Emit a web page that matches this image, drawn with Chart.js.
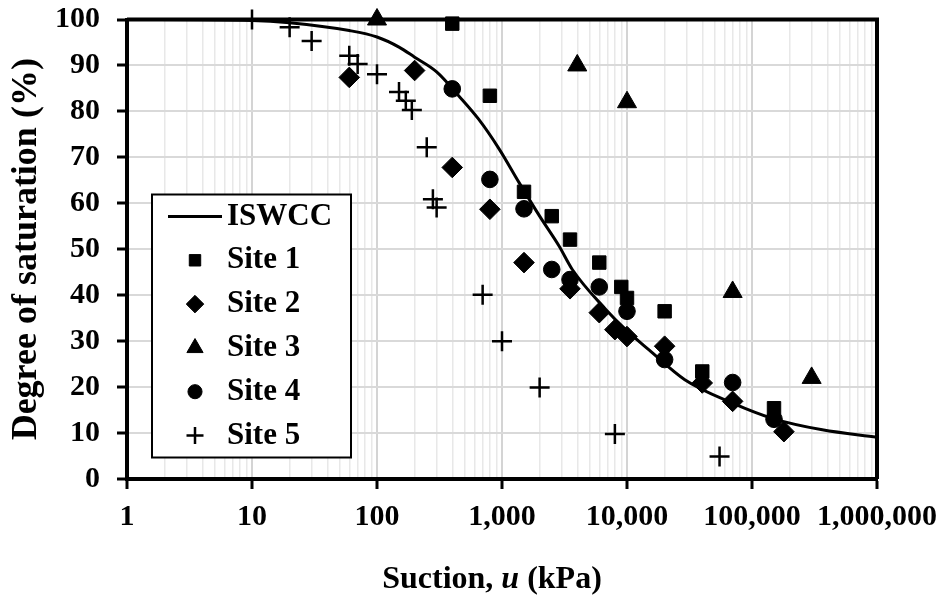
<!DOCTYPE html>
<html>
<head>
<meta charset="utf-8">
<script src="https://cdn.jsdelivr.net/npm/chart.js@4.4.1/dist/chart.umd.min.js"></script>
<style>
  body { margin: 0; background: #fff; }
  .chart-box { width: 949px; height: 604px; }
</style>
</head>
<body>
<div class="chart-box"><canvas id="swccChart"></canvas></div>
<script>
// ISWCC curve (suction in kPa, degree of saturation in %)
const iswccSuction = [1, 10, 20, 60, 100, 150, 200, 300, 450, 650, 950, 1370, 2000, 2860, 3650, 6770, 9770, 15000, 29000, 70000, 145000, 365000, 1000000];
const iswccSat = [100, 99.8, 99.3, 97.6, 96.2, 94.0, 91.8, 88.6, 83.4, 78.3, 71.8, 64.5, 57.2, 50.7, 45.6, 36.9, 32.5, 28.1, 21.6, 16.5, 13.2, 10.7, 9.1];

// measured points per site
const site1Suction = [400, 800, 1500, 2500, 3500, 6000, 9000, 10000, 20000, 40000, 150000];
const site1Sat = [99.1, 83.4, 62.5, 57.2, 52.1, 47.1, 41.8, 39.4, 36.5, 23.4, 15.4];

const site2Suction = [60, 200, 400, 800, 1500, 3500, 6000, 8000, 10000, 20000, 40000, 70000, 180000];
const site2Sat = [87.4, 88.9, 67.8, 58.7, 47.1, 41.4, 36.2, 32.5, 31.0, 28.9, 20.9, 16.9, 10.3];

const site3Suction = [100, 4000, 10000, 70000, 300000];
const site3Sat = [100, 90.0, 82.0, 40.7, 22.0];

const site4Suction = [400, 800, 1500, 2500, 3500, 6000, 10000, 20000, 70000, 150000];
const site4Sat = [84.9, 65.2, 58.8, 45.6, 43.4, 41.8, 36.5, 26.0, 21.0, 13.0];

const site5Suction = [10, 20, 30, 60, 70, 100, 150, 170, 190, 250, 280, 300, 700, 1000, 2000, 8000, 55000];
const site5Sat = [100, 98.3, 95.3, 92.1, 90.3, 88.1, 84.2, 82.3, 80.3, 72.2, 60.9, 59.1, 40.1, 30.0, 19.9, 9.8, 4.9];

const xDecades = [1, 10, 100, 1000, 10000, 100000, 1000000];

const FONT = '"Liberation Serif", "Times New Roman", serif';
Chart.defaults.font.family = FONT;
Chart.defaults.font.weight = 'bold';
Chart.defaults.color = '#000';

const toPoints = (xs, ys) => xs.map((x, i) => ({x: x, y: ys[i]}));

const siteSet = (label, xs, ys, style, radius, bw) => ({
  label: label,
  data: toPoints(xs, ys),
  pointStyle: style,
  pointRadius: radius,
  pointHoverRadius: radius,
  pointBackgroundColor: '#000',
  pointBorderColor: '#000',
  pointBorderWidth: bw,
  showLine: false,
  clip: false,
  order: 0
});

// frame on top and right side of the plot
const frame = {
  id: 'frame',
  beforeDatasetsDraw(chart) {
    const {ctx, chartArea: a} = chart;
    ctx.save();
    ctx.strokeStyle = '#000';
    ctx.lineWidth = 4;
    ctx.beginPath();
    ctx.moveTo(a.left, a.top);
    ctx.lineTo(a.right, a.top);
    ctx.lineTo(a.right, a.bottom);
    ctx.stroke();
    ctx.restore();
  }
};

// boxed legend inside the plot + x axis title with italic u
const legendBox = {
  id: 'legendBox',
  afterDraw(chart) {
    const {ctx, chartArea: a} = chart;
    const left = a.left + 25, top = a.top + 175, w = 199, h = 263;
    ctx.save();
    ctx.fillStyle = '#fff';
    ctx.fillRect(left, top, w, h);
    ctx.lineWidth = 2;
    ctx.strokeStyle = '#000';
    ctx.strokeRect(left, top, w, h);

    ctx.font = 'bold 31px ' + FONT;
    ctx.textBaseline = 'middle';
    ctx.textAlign = 'left';
    chart.data.datasets.forEach((ds, i) => {
      const y = top + 22 + i * 43.8;
      ctx.fillStyle = '#000';
      ctx.strokeStyle = '#000';
      if (ds.showLine) {
        ctx.lineWidth = 3;
        ctx.beginPath();
        ctx.moveTo(left + 16, y);
        ctx.lineTo(left + 70, y);
        ctx.stroke();
      } else {
        ctx.lineWidth = ds.pointBorderWidth;
        Chart.helpers.drawPoint(ctx, {
          pointStyle: ds.pointStyle,
          radius: ds.pointRadius * 0.85,
          borderWidth: ds.pointBorderWidth,
          rotation: 0
        }, left + 43, y);
      }
      ctx.fillText(ds.label, left + 75, y);
    });

    const parts = [['Suction, ', 'bold'], ['u', 'italic bold'], [' (kPa)', 'bold']];
    let total = 0;
    parts.forEach(p => { ctx.font = p[1] + ' 32px ' + FONT; total += ctx.measureText(p[0]).width; });
    let x = (a.left + a.right) / 2 - 10 - total / 2;
    ctx.textBaseline = 'alphabetic';
    ctx.fillStyle = '#000';
    parts.forEach(p => {
      ctx.font = p[1] + ' 32px ' + FONT;
      ctx.fillText(p[0], x, 588);
      x += ctx.measureText(p[0]).width;
    });
    ctx.restore();
  }
};

const swccChart = new Chart(document.getElementById('swccChart'), {
  type: 'scatter',
  data: {
    datasets: [
      {
        label: 'ISWCC',
        data: toPoints(iswccSuction, iswccSat),
        showLine: true,
        borderColor: '#000',
        borderWidth: 3,
        pointRadius: 0,
        pointHoverRadius: 0,
        cubicInterpolationMode: 'monotone',
        order: 1
      },
      siteSet('Site 1', site1Suction, site1Sat, 'rect', 9.5, 1),
      siteSet('Site 2', site2Suction, site2Sat, 'rectRot', 10.3, 1),
      siteSet('Site 3', site3Suction, site3Sat, 'triangle', 11, 1),
      siteSet('Site 4', site4Suction, site4Sat, 'circle', 8.3, 1),
      siteSet('Site 5', site5Suction, site5Sat, 'cross', 10, 2.5)
    ]
  },
  options: {
    responsive: true,
    maintainAspectRatio: false,
    animation: false,
    layout: { padding: { top: 19.5, right: 72, bottom: 0, left: 0 } },
    plugins: {
      legend: { display: false },
      tooltip: { enabled: false }
    },
    scales: {
      x: {
        type: 'logarithmic',
        min: 1,
        max: 1000000,
        afterBuildTicks: (scale) => {
          const ticks = [];
          for (let e = 0; e < 6; e++) {
            for (let m = 1; m < 10; m++) ticks.push({value: m * Math.pow(10, e)});
          }
          ticks.push({value: 1000000});
          scale.ticks = ticks;
        },
        afterFit: (scale) => { scale.height = 125; },
        border: { display: true, color: '#000', width: 4 },
        grid: {
          color: (c) => xDecades.includes(c.tick.value) ? '#d4d4d4' : '#e8e8e8',
          lineWidth: (c) => xDecades.includes(c.tick.value) ? 2 : 1.5,
          tickColor: (c) => xDecades.includes(c.tick.value) ? '#000' : 'rgba(0,0,0,0)',
          tickWidth: 3,
          tickLength: 10
        },
        ticks: {
          autoSkip: false,
          maxRotation: 0,
          padding: 10,
          font: { size: 30, weight: 'bold' },
          callback: (v) => xDecades.includes(v) ? v.toLocaleString('en-US') : ''
        }
      },
      y: {
        min: 0,
        max: 100,
        afterFit: (scale) => {
          scale.width = 127;
          // keep the label overhang from pushing the plot down
          scale.paddingTop = 0;
          scale.paddingBottom = 0;
        },
        border: { display: true, color: '#000', width: 4 },
        grid: {
          color: '#d9d9d9',
          lineWidth: 2,
          tickColor: '#000',
          tickWidth: 3,
          tickLength: 10
        },
        ticks: {
          stepSize: 10,
          padding: 17,
          font: { size: 30, weight: 'bold' }
        },
        title: {
          display: true,
          text: 'Degree of saturation (%)',
          font: { size: 36, weight: 'bold' },
          padding: { top: 5, bottom: 0 }
        }
      }
    }
  },
  plugins: [frame, legendBox]
});
</script>
</body>
</html>
